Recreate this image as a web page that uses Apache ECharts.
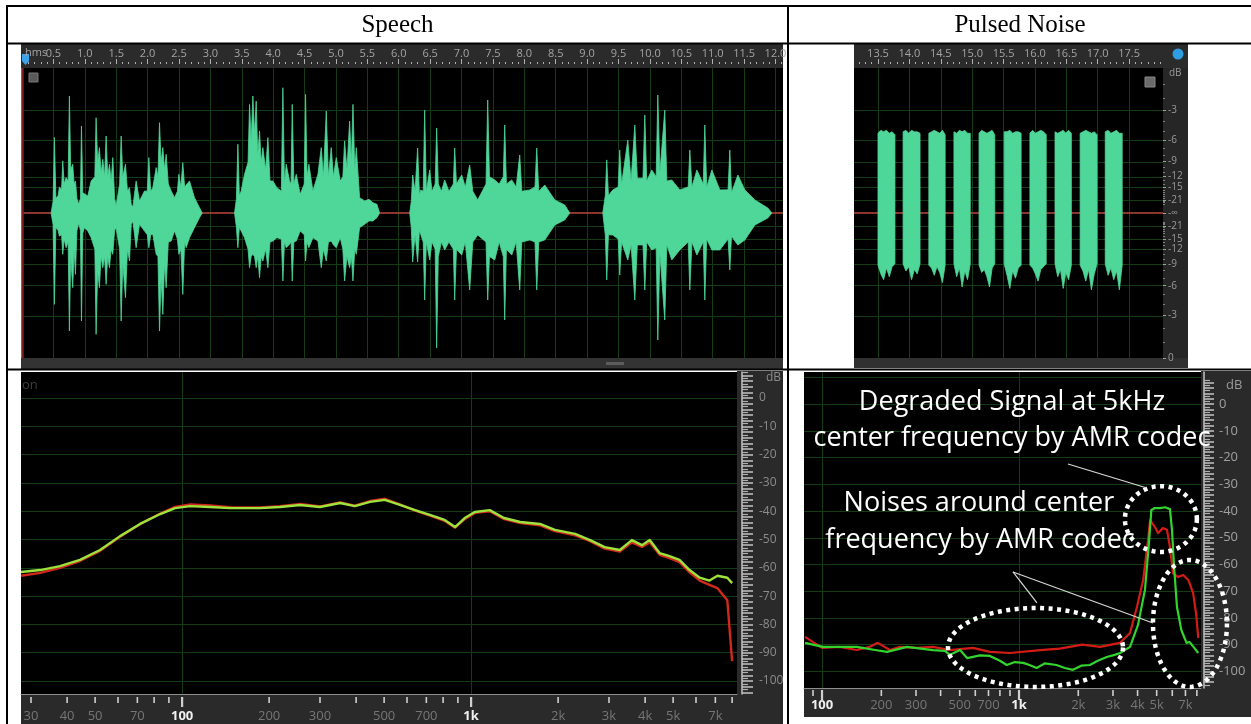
<!DOCTYPE html>
<html>
<head>
<meta charset="utf-8">
<title>Speech and pulsed noise</title>
<script src="https://cdn.jsdelivr.net/npm/echarts@6.0.0/dist/echarts.min.js"></script>
<style>
  html, body { margin: 0; padding: 0; background: #ffffff; }
  #chart { width: 1251px; height: 724px; }
</style>
</head>
<body>
<div id="chart"></div>
<script>
// ---------------- data ----------------
// Speech waveform: peak envelope (time in s, linear amplitude); null = silence between phrases
const speechT = [
  0.463, 0.495, 0.516, 0.540, 0.575, 0.596, 0.630, 0.649, 0.672, 0.702, 0.735, 0.755, 0.775, 0.808,
  0.830, 0.851, 0.875, 0.904, 0.930, 0.947, 0.968, 0.994, 1.048, 1.101, 1.160, 1.180, 1.205, 1.233,
  1.260, 1.287, 1.315, 1.340, 1.365, 1.393, 1.420, 1.446, 1.475, 1.499, 1.555, 1.579, 1.605, 1.648,
  1.680, 1.712, 1.740, 1.765, 1.818, 1.871, 1.951, 1.995, 2.020, 2.050, 2.083, 2.137, 2.165, 2.190,
  2.215, 2.243, 2.270, 2.296, 2.330, 2.376, 2.429, 2.475, 2.498, 2.530, 2.561, 2.590, 2.615, 2.668,
  2.747, 2.827, 2.870,
  null,
  3.385, 3.415, 3.438, 3.462, 3.491, 3.544, 3.600, 3.624, 3.650, 3.677, 3.703, 3.730, 3.755, 3.783,
  3.810, 3.836, 3.880, 3.916, 3.950, 3.996, 4.059, 4.130, 4.155, 4.180, 4.208, 4.261, 4.285, 4.304,
  4.330, 4.368, 4.431, 4.495, 4.516, 4.540, 4.569, 4.633, 4.713, 4.766, 4.800, 4.846, 4.880, 4.925,
  4.960, 5.005, 5.069, 5.110, 5.138, 5.175, 5.218, 5.245, 5.271, 5.300, 5.324, 5.377, 5.457, 5.526,
  5.589, 5.653, 5.695,
  null,
  6.175, 6.200, 6.222, 6.260, 6.301, 6.330, 6.349, 6.390, 6.413, 6.440, 6.493, 6.530, 6.580, 6.604,
  6.630, 6.680, 6.732, 6.800, 6.870, 6.891, 6.920, 7.003, 7.060, 7.130, 7.180, 7.258, 7.390, 7.417,
  7.445, 7.529, 7.600, 7.665, 7.688, 7.715, 7.800, 7.870, 7.927, 7.960, 8.087, 8.170, 8.198, 8.230,
  8.326, 8.485, 8.644, 8.724,
  null,
  9.250, 9.290, 9.313, 9.340, 9.409, 9.495, 9.520, 9.550, 9.648, 9.700, 9.760, 9.800, 9.890, 9.919,
  9.950, 10.030, 10.100, 10.126, 10.160, 10.237, 10.270, 10.349, 10.476, 10.610, 10.636, 10.670,
  10.748, 10.850, 10.875, 10.905, 10.987, 11.114, 11.245, 11.273, 11.300, 11.401, 11.513, 11.672,
  11.879, 11.943
];
const speechHi = [
  0, 0.08, 0.52, 0.10, 0.12, 0.18, 0.16, 0.359, 0.20, 0.244, 0.22, 0.807, 0.30, 0.336,
  0.20, 0.221, 0.10, 0.06, 0.10, 0.60, 0.14, 0.129, 0.117, 0.221, 0.25, 0.657, 0.35, 0.451,
  0.28, 0.37, 0.25, 0.531, 0.25, 0.336, 0.22, 0.382, 0.10, 0.05, 0.20, 0.531, 0.25, 0.336,
  0.15, 0.175, 0.06, 0.04, 0.221, 0.083, 0.152, 0.15, 0.382, 0.15, 0.175, 0.313, 0.25, 0.623,
  0.35, 0.451, 0.30, 0.405, 0.20, 0.152, 0.106, 0.15, 0.267, 0.18, 0.347, 0.18, 0.175, 0.221,
  0.106, 0.037, 0,
  null,
  0, 0.10, 0.474, 0.12, 0.152, 0.267, 0.35, 0.749, 0.50, 0.807, 0.55, 0.772, 0.40, 0.566,
  0.35, 0.451, 0.30, 0.52, 0.22, 0.221, 0.175, 0.15, 0.864, 0.20, 0.336, 0.221, 0.20, 0.749,
  0.20, 0.267, 0.129, 0.20, 0.818, 0.25, 0.336, 0.152, 0.267, 0.451, 0.25, 0.703, 0.25, 0.451,
  0.25, 0.382, 0.221, 0.25, 0.497, 0.30, 0.634, 0.35, 0.749, 0.30, 0.451, 0.106, 0.083, 0.094,
  0.071, 0.06, 0,
  null,
  0, 0.08, 0.262, 0.15, 0.448, 0.12, 0.159, 0.15, 0.710, 0.15, 0.297, 0.15, 0.20, 0.586,
  0.20, 0.15, 0.228, 0.15, 0.20, 0.448, 0.20, 0.262, 0.18, 0.331, 0.15, 0.09, 0.20, 0.779,
  0.25, 0.228, 0.20, 0.25, 0.607, 0.20, 0.228, 0.18, 0.40, 0.15, 0.159, 0.18, 0.448, 0.15,
  0.193, 0.09, 0.055, 0,
  null,
  0, 0.12, 0.366, 0.12, 0.159, 0.18, 0.434, 0.20, 0.503, 0.22, 0.607, 0.24, 0.24, 0.676,
  0.22, 0.297, 0.25, 0.814, 0.28, 0.710, 0.22, 0.228, 0.159, 0.18, 0.434, 0.18,
  0.297, 0.20, 0.607, 0.18, 0.297, 0.159, 0.16, 0.434, 0.14, 0.262, 0.159, 0.09,
  0.034, 0
];
const speechLo = [
  0, -0.08, -0.63, -0.10, -0.12, -0.16, -0.15, -0.285, -0.18, -0.239, -0.20, -0.814, -0.30, -0.515,
  -0.25, -0.423, -0.12, -0.07, -0.12, -0.745, -0.14, -0.101, -0.124, -0.17, -0.25, -0.837, -0.40, -0.515,
  -0.30, -0.377, -0.30, -0.492, -0.30, -0.377, -0.25, -0.285, -0.12, -0.10, -0.25, -0.745, -0.35, -0.584,
  -0.25, -0.331, -0.08, -0.055, -0.239, -0.078, -0.124, -0.15, -0.239, -0.15, -0.147, -0.285, -0.30, -0.814,
  -0.45, -0.699, -0.35, -0.515, -0.20, -0.193, -0.124, -0.18, -0.285, -0.25, -0.561, -0.20, -0.239, -0.17,
  -0.101, -0.032, 0,
  null,
  0, -0.10, -0.239, -0.10, -0.124, -0.17, -0.25, -0.377, -0.30, -0.285, -0.30, -0.377, -0.30, -0.446,
  -0.30, -0.331, -0.25, -0.377, -0.20, -0.193, -0.17, -0.18, -0.469, -0.20, -0.239, -0.216, -0.20, -0.469,
  -0.20, -0.193, -0.124, -0.15, -0.331, -0.20, -0.239, -0.17, -0.193, -0.377, -0.25, -0.331, -0.20, -0.193,
  -0.22, -0.239, -0.17, -0.25, -0.469, -0.30, -0.377, -0.30, -0.469, -0.25, -0.285, -0.101, -0.078, -0.055,
  -0.055, -0.032, 0,
  null,
  0, -0.10, -0.338, -0.15, -0.338, -0.12, -0.117, -0.20, -0.60, -0.20, -0.324, -0.20, -0.25, -0.93,
  -0.30, -0.20, -0.255, -0.20, -0.25, -0.60, -0.25, -0.29, -0.20, -0.531, -0.20, -0.152, -0.20, -0.60,
  -0.30, -0.324, -0.20, -0.30, -0.738, -0.25, -0.29, -0.20, -0.531, -0.20, -0.186, -0.20, -0.531, -0.20,
  -0.186, -0.083, -0.048, 0,
  null,
  0, -0.15, -0.462, -0.15, -0.152, -0.18, -0.428, -0.20, -0.324, -0.22, -0.60, -0.22, -0.22, -0.531,
  -0.20, -0.255, -0.24, -0.876, -0.28, -0.738, -0.22, -0.324, -0.255, -0.20, -0.531, -0.20,
  -0.29, -0.20, -0.60, -0.18, -0.255, -0.255, -0.18, -0.393, -0.16, -0.221, -0.186, -0.083,
  -0.034, 0
];

// Pulsed noise bursts: onset / offset times (s) and envelope readings across each burst
const pulseStart = [13.50, 13.90, 14.31, 14.71, 15.11, 15.51, 15.92, 16.32, 16.72, 17.12];
const pulseEnd   = [13.77, 14.17, 14.57, 14.97, 15.36, 15.78, 16.18, 16.58, 16.99, 17.39];
const pulseHi = [
  [0.55, 0.57, 0.56, 0.57, 0.55, 0.56, 0.54],
  [0.56, 0.57, 0.55, 0.57, 0.56, 0.56, 0.55],
  [0.55, 0.56, 0.57, 0.56, 0.55, 0.57, 0.54],
  [0.56, 0.55, 0.57, 0.56, 0.57, 0.55, 0.55],
  [0.55, 0.57, 0.56, 0.55, 0.56, 0.57, 0.54],
  [0.56, 0.56, 0.57, 0.55, 0.56, 0.56, 0.55],
  [0.55, 0.57, 0.55, 0.56, 0.57, 0.56, 0.54],
  [0.56, 0.55, 0.56, 0.57, 0.55, 0.57, 0.55],
  [0.55, 0.56, 0.57, 0.56, 0.55, 0.56, 0.54],
  [0.56, 0.57, 0.55, 0.56, 0.57, 0.55, 0.55]
];
const pulseLo = [
  [-0.36, -0.42, -0.46, -0.38, -0.44, -0.37, -0.35],
  [-0.35, -0.40, -0.37, -0.46, -0.39, -0.42, -0.35],
  [-0.36, -0.38, -0.43, -0.37, -0.41, -0.48, -0.36],
  [-0.35, -0.44, -0.38, -0.51, -0.40, -0.46, -0.35],
  [-0.36, -0.41, -0.39, -0.44, -0.51, -0.38, -0.35],
  [-0.35, -0.43, -0.52, -0.40, -0.45, -0.38, -0.36],
  [-0.36, -0.38, -0.42, -0.47, -0.39, -0.37, -0.35],
  [-0.35, -0.44, -0.39, -0.52, -0.41, -0.46, -0.36],
  [-0.36, -0.40, -0.47, -0.39, -0.53, -0.42, -0.35],
  [-0.35, -0.43, -0.38, -0.46, -0.40, -0.53, -0.36]
];

// Time ruler labels (s)
const speechRuler = [0.5, 1.0, 1.5, 2.0, 2.5, 3.0, 3.5, 4.0, 4.5, 5.0, 5.5, 6.0, 6.5, 7.0, 7.5, 8.0,
                     8.5, 9.0, 9.5, 10.0, 10.5, 11.0, 11.5, 12.0];
const noiseRuler = [13.5, 14.0, 14.5, 15.0, 15.5, 16.0, 16.5, 17.0, 17.5];
// Waveform level grid (dB below full scale)
const waveDbLevels = [-3, -6, -9, -12, -15, -21];

// Speech spectrum (Hz, dB)
const speechSpecF = [27.7, 32.3, 37.8, 44.3, 52, 61, 71.5, 84, 94.6, 106.6,
  125, 146.6, 186, 218, 256, 300, 352, 396, 447, 503,
  567, 640, 720, 810, 880, 950, 1030, 1160, 1300, 1480,
  1730, 1950, 2290, 2580, 2900, 3270, 3600, 3900, 4150, 4490,
  4860, 5260, 5700, 6180, 6680, 7120, 7700, 8000];
const speechSpecGreen = [-61.5, -60.8, -59.4, -57.2, -53.7, -48.8, -44.5, -41, -38.9, -38.2,
  -38.5, -38.9, -38.9, -38.5, -37.8, -38.5, -37.1, -38.2, -36.7, -36,
  -37.8, -39.6, -41.3, -43.1, -45.6, -42.4, -40.3, -39.6, -42.4, -43.8,
  -44.5, -46.6, -48, -50.2, -52.7, -53.7, -50.2, -52, -50.2, -54.8,
  -55.9, -57.2, -60.8, -63.5, -64.5, -62.8, -63.5, -65.4];
const speechSpecRed = [-62.8, -61.8, -60, -57.6, -54, -49, -44.6, -40.8, -38.5, -37.6,
  -38, -38.6, -38.7, -38.2, -37.4, -38.3, -36.9, -38, -36.4, -35.6,
  -37.6, -39.8, -41.6, -43.4, -45.8, -42.8, -40.6, -40, -42.8, -44.2,
  -45, -47, -48.5, -50.6, -53.2, -54.3, -51, -52.6, -51, -55.4,
  -56.6, -58, -61.6, -64.5, -66, -67.2, -71.5, -93];

// Pulsed-noise spectrum (Hz, dB)
const noiseRedF = [82, 100, 123, 150, 175, 192, 221, 249, 303, 365,
  446, 584, 712, 900, 1280, 1610, 2100, 2580, 3260, 3660,
  3970, 4270, 4520, 4630, 4900, 5080, 5380, 5640, 5840, 6050,
  6420, 6820, 7240, 7660, 7940, 8130];
const noiseRedDb = [-87.1, -91.2, -90.8, -92, -90.8, -89.3, -92, -90.8, -91.2, -90.8,
  -92, -91.2, -92.7, -93.1, -92, -91.5, -90, -90.8, -89.3, -85.6,
  -75.9, -65.8, -50.8, -43.4, -46, -48.2, -46.4, -47, -53.5, -63.2,
  -64.7, -63.9, -65.8, -70.7, -78.9, -87.5];
const noiseGreenF = [82, 101, 150, 186, 214, 270, 365, 420, 446, 502,
  545, 634, 712, 800, 867, 953, 1050, 1130, 1230, 1350,
  1550, 1710, 1880, 2080, 2290, 2510, 2790, 3060, 3260, 3660,
  4020, 4360, 4560, 4700, 4890, 5200, 5510, 5840, 5980, 6120,
  6340, 6670, 7090, 7340, 7690, 8130];
const noiseGreenDb = [-89.3, -90.8, -90.8, -92, -92.7, -90.8, -92, -92.3, -93.8, -92,
  -95, -94, -94.2, -96, -97.6, -96.5, -96.8, -97.6, -98.7, -97,
  -97.6, -98.7, -99.4, -97.8, -97.6, -96, -94.6, -93.8, -93.1, -90.8,
  -82.6, -69.5, -52.7, -39.6, -38.9, -38.9, -38.6, -39.3, -47, -60.2,
  -75.9, -84.5, -89.3, -89, -90.8, -93.1];

// Spectrum axes
const specDbLabels = [0, -10, -20, -30, -40, -50, -60, -70, -80, -90, -100];
const speechFreqTicks  = [30, 40, 50, 60, 70, 80, 90, 100, 200, 300, 400, 500, 600, 700, 800, 900,
                          1000, 2000, 3000, 4000, 5000, 6000, 7000, 8000];
const speechFreqLabels = ['30', '40', '50', '', '70', '', '', '100', '200', '300', '', '500', '', '700', '', '',
                          '1k', '2k', '3k', '4k', '5k', '', '7k', ''];
const noiseFreqTicks  = [90, 100, 200, 300, 400, 500, 600, 700, 800, 900,
                         1000, 2000, 3000, 4000, 5000, 6000, 7000, 8000];
const noiseFreqLabels = ['', '100', '200', '300', '', '500', '', '700', '', '',
                         '1k', '2k', '3k', '4k', '5k', '', '7k', ''];

// Annotations on the pulsed-noise spectrum, in (Hz, dB)
const noteText = ['Degraded Signal at 5kHz', 'center frequency by AMR codec',
                  'Noises around center', 'frequency by AMR codec'];
const noteTextAt = [[921, 0.7], [921, -12.7], [626, -37], [634, -50.8]];
const noteLines = [[1773, -22.4, 4463, -31.4], [932, -62.8, 1234, -74.4], [932, -62.8, 4788, -81.9]];
const noteRings = [[3450, 8000, -30.7, -55.3], [436, 3373, -76.3, -105.8], [4788, 11370, -58.3, -105.8]];

// ---------------- styling helpers ----------------
const GRID_GREEN = '#143d16';
const CENTER_RED = '#b9493b';
const WAVE_FILL = '#4fd699';
const RULER_TXT = '#a4a4a4';
const STRIP = '#2a2a2a';

const ampOf = db => Math.pow(10, db / 20);
const waveGridAmps = [];
waveDbLevels.forEach(d => { waveGridAmps.push(ampOf(d), -ampOf(d)); });
const waveLabelAmps = waveGridAmps.concat([0, -1]);
const waveMinorAmps = [];
for (let d = -1; d >= -24; d--) {
  if (waveDbLevels.indexOf(d) < 0) waveMinorAmps.push(ampOf(d), -ampOf(d));
}
const stepList = (a, b, s) => { const out = []; for (let v = a; v <= b + 1e-9; v += s) out.push(+v.toFixed(2)); return out; };
const speechMinor = stepList(0.1, 12.1, 0.1);
const noiseMinor = stepList(13.2, 18.0, 0.1);
const specMajorTicks = stepList(-104, 8, 2);
const specMinorTicks = stepList(-105, 9, 2);

function waveGridSeries(xi, yi, vLines, edge) {
  const lines = vLines.map(t => ({ xAxis: t }))
    .concat(waveGridAmps.map(a => ({ yAxis: a })))
    .concat([{ yAxis: 0, lineStyle: { color: CENTER_RED, width: 1.6, type: 'solid', opacity: 1 } }]);
  if (edge != null) lines.push({ xAxis: edge, lineStyle: { color: '#7c1f1f', width: 2.5, type: 'solid' } });
  return {
    type: 'line', xAxisIndex: xi, yAxisIndex: yi, z: 1, silent: true, data: [], symbol: 'none',
    markLine: {
      z: 1, silent: true, symbol: ['none', 'none'], animation: false, label: { show: false },
      lineStyle: { color: GRID_GREEN, width: 1, type: 'solid' }, data: lines
    }
  };
}
function specGridSeries(xi, yi, levels) {
  return {
    type: 'line', xAxisIndex: xi, yAxisIndex: yi, z: 1, silent: true, data: [], symbol: 'none',
    markLine: {
      z: 1, silent: true, symbol: ['none', 'none'], animation: false, label: { show: false },
      lineStyle: { color: GRID_GREEN, width: 1, type: 'solid' },
      data: [{ xAxis: 100 }, { xAxis: 1000 }].concat(levels.map(v => ({ yAxis: v })))
    }
  };
}
function waveSeries(xi, yi, pts) {
  return {
    type: 'line', xAxisIndex: xi, yAxisIndex: yi, z: 5, silent: true, data: pts,
    symbol: 'none', connectNulls: false, animation: false,
    lineStyle: { color: WAVE_FILL, width: 0.8 },
    areaStyle: { color: WAVE_FILL, opacity: 1 }
  };
}
function specSeries(xi, yi, fs, dbs, color, w) {
  return {
    type: 'line', xAxisIndex: xi, yAxisIndex: yi, z: 5, silent: true,
    data: fs.map((f, i) => [f, dbs[i]]), symbol: 'none', animation: false,
    lineStyle: { color: color, width: w, join: 'round' }
  };
}
function freqAxisSeries(xi, yi, ticks, labels, yMin, tickTop, tickLen, labelDy) {
  return {
    type: 'custom', xAxisIndex: xi, yAxisIndex: yi, z: 6, silent: true, clip: false, animation: false,
    data: ticks.map((f, i) => [f, yMin, i]),
    renderItem: (params, api) => {
      const i = api.value(2);
      const p = api.coord([api.value(0), api.value(1)]);
      const lab = labels[i];
      const major = lab === '100' || lab === '1k';
      const kids = [{
        type: 'line',
        shape: { x1: p[0], y1: p[1] + tickTop, x2: p[0], y2: p[1] + tickTop + (major ? tickLen + 4 : tickLen) },
        style: { stroke: '#cfcfcf', lineWidth: major ? 2.2 : 1.6 }
      }];
      if (lab) kids.push({
        type: 'text', x: p[0], y: p[1] + labelDy,
        style: { text: lab, fill: major ? '#f0f0f0' : '#767676', align: 'center', verticalAlign: 'middle',
                 font: (major ? 'bold ' : '') + '13px "Open Sans", sans-serif' }
      });
      return { type: 'group', children: kids };
    }
  };
}
function pulseEnvelope(levels) {
  const pts = [];
  pulseStart.forEach((s, p) => {
    const e = pulseEnd[p], v = levels[p], n = v.length;
    pts.push([s, 0]);
    v.forEach((a, k) => pts.push([s + (e - s) * k / (n - 1), a]));
    pts.push([e, 0]);
    pts.push([null, null]);
  });
  return pts;
}
const dbText = v => {
  if (v === 0) return '-\u221e';
  if (Math.abs(v) > 0.999) return '0';
  return String(Math.round(20 * Math.log10(Math.abs(v))));
};

// ---------------- layout decoration ----------------
const bg = (id, x, y, w, h, fill) => ({ type: 'rect', id, z: -10, shape: { x, y, width: w, height: h }, style: { fill } });
const rule = (id, x1, y1, x2, y2) => ({ type: 'line', id, z: 60, shape: { x1, y1, x2, y2 }, style: { stroke: '#000', lineWidth: 2 } });
const graphics = [
  bg('rulerA', 21, 44, 762, 24, '#2b2b2b'),
  bg('footA', 21, 358, 762, 11, '#333333'),
  bg('gripA', 606, 362, 18, 3, '#5c5c5c'),
  bg('rulerB', 854, 44, 334, 24, '#2b2b2b'),
  bg('sideB', 1163, 68, 25, 290, '#262626'),
  bg('footB', 854, 358, 334, 10, '#303030'),
  bg('sideC', 737, 371, 46, 353, STRIP),
  bg('footC', 21, 694, 716, 30, STRIP),
  bg('sideD', 1201, 371, 50, 346, STRIP),
  bg('footD', 804, 688, 397, 29, STRIP),
  { type: 'rect', id: 'clipC', z: 55, shape: { x: 783, y: 371, width: 5, height: 353 }, style: { fill: '#fff' } },
  { type: 'rect', id: 'iconA', z: 20, shape: { x: 29, y: 73, width: 9, height: 9 }, style: { fill: '#5a5a5a', stroke: '#777', lineWidth: 1 } },
  { type: 'rect', id: 'iconB', z: 20, shape: { x: 1145, y: 77, width: 10, height: 10 }, style: { fill: '#6a6a6a', stroke: '#888', lineWidth: 1 } },
  { type: 'circle', id: 'knobB', z: 20, shape: { cx: 1178, cy: 54, r: 5.5 }, style: { fill: '#2f9ee0' } },
  { type: 'polygon', id: 'headA', z: 20, shape: { points: [[22, 54], [29, 54], [29, 61], [25.5, 65], [22, 61]] }, style: { fill: '#3aa3ea' } },
  { type: 'text', id: 'hms', z: 20, x: 25, y: 53, style: { text: 'hms', fill: RULER_TXT, font: '11px "Open Sans", sans-serif', verticalAlign: 'middle' } },
  { type: 'text', id: 'dbB', z: 20, x: 1169, y: 73, style: { text: 'dB', fill: '#9a9a9a', font: '10px "Open Sans", sans-serif', verticalAlign: 'middle' } },
  { type: 'text', id: 'dbC', z: 20, x: 766, y: 378, style: { text: 'dB', fill: '#8c8c8c', font: '12px "Open Sans", sans-serif', verticalAlign: 'middle' } },
  { type: 'text', id: 'dbD', z: 20, x: 1226, y: 385, style: { text: 'dB', fill: '#9a9a9a', font: '13px "Open Sans", sans-serif', verticalAlign: 'middle' } },
  { type: 'text', id: 'onC', z: 20, x: 22, y: 385, style: { text: 'on', fill: '#3e3e3e', font: '13px "Open Sans", sans-serif', verticalAlign: 'middle' } },
  // table
  rule('t0', 6, 6, 1251, 6),
  rule('t1', 6, 43.5, 1251, 43.5),
  rule('t2', 6, 369.5, 1251, 369.5),
  rule('v0', 7, 5, 7, 724),
  rule('v1', 788, 5, 788, 724),
  { type: 'text', id: 'h1', z: 60, x: 397.5, y: 25, style: { text: 'Speech', fill: '#000', align: 'center', verticalAlign: 'middle', font: '25px "Liberation Serif", "Times New Roman", serif' } },
  { type: 'text', id: 'h2', z: 60, x: 1020, y: 25, style: { text: 'Pulsed Noise', fill: '#000', align: 'center', verticalAlign: 'middle', font: '25px "Liberation Serif", "Times New Roman", serif' } }
];

// ---------------- chart ----------------
const chart = echarts.init(document.getElementById('chart'), null, { renderer: 'canvas' });
const gridBase = { show: true, backgroundColor: '#000', borderWidth: 0, containLabel: false, outerBoundsMode: 'none' };
const rulerTick = (vals, len) => ({ show: true, customValues: vals, length: len, lineStyle: { color: '#b0b0b0', width: 1 } });
const noLine = { show: false, onZero: false };

chart.setOption({
  animation: false,
  backgroundColor: '#ffffff',
  grid: [
    Object.assign({ left: 22, top: 68, width: 761, height: 290 }, gridBase),
    Object.assign({ left: 854, top: 68, width: 309, height: 290 }, gridBase),
    Object.assign({ left: 21, top: 372, width: 716, height: 322 }, gridBase),
    Object.assign({ left: 804, top: 372, width: 397, height: 316 }, gridBase)
  ],
  xAxis: [
    { gridIndex: 0, type: 'value', min: 0, max: 12.12, position: 'top', offset: 4,
      axisLine: noLine, splitLine: { show: false }, axisTick: rulerTick(speechRuler, 5),
      axisLabel: { customValues: speechRuler, formatter: v => v.toFixed(1), color: RULER_TXT, fontSize: 11, margin: 5, fontFamily: 'Open Sans' } },
    { gridIndex: 0, type: 'value', min: 0, max: 12.12, position: 'top', offset: 4,
      axisLine: noLine, splitLine: { show: false }, axisTick: rulerTick(speechMinor, 2), axisLabel: { show: false } },
    { gridIndex: 1, type: 'value', min: 13.118, max: 18.04, position: 'top', offset: 4,
      axisLine: noLine, splitLine: { show: false }, axisTick: rulerTick(noiseRuler, 5),
      axisLabel: { customValues: noiseRuler, formatter: v => v.toFixed(1), color: RULER_TXT, fontSize: 11, margin: 5, fontFamily: 'Open Sans' } },
    { gridIndex: 1, type: 'value', min: 13.118, max: 18.04, position: 'top', offset: 4,
      axisLine: noLine, splitLine: { show: false }, axisTick: rulerTick(noiseMinor, 2), axisLabel: { show: false } },
    { gridIndex: 2, type: 'log', logBase: 10, min: 27.7, max: 8318, position: 'bottom',
      axisLine: { show: true, onZero: false, lineStyle: { color: '#8e8e8e', width: 1 } },
      axisTick: { show: false }, axisLabel: { show: false }, splitLine: { show: false } },
    { gridIndex: 3, type: 'log', logBase: 10, min: 81, max: 8395, position: 'bottom',
      axisLine: { show: true, onZero: false, lineStyle: { color: '#8e8e8e', width: 1 } },
      axisTick: { show: false }, axisLabel: { show: false }, splitLine: { show: false } }
  ],
  yAxis: [
    { gridIndex: 0, type: 'value', min: -1, max: 1, show: false, axisLine: noLine },
    { gridIndex: 1, type: 'value', min: -1, max: 1, position: 'right',
      axisLine: noLine, splitLine: { show: false },
      axisTick: { show: true, customValues: waveLabelAmps, length: 3, lineStyle: { color: '#a0a0a0' } },
      axisLabel: { customValues: waveLabelAmps, formatter: dbText, color: '#9a9a9a', fontSize: 10, margin: 5, fontFamily: 'Open Sans' } },
    { gridIndex: 1, type: 'value', min: -1, max: 1, position: 'right',
      axisLine: noLine, splitLine: { show: false }, axisLabel: { show: false },
      axisTick: { show: true, customValues: waveMinorAmps, length: 2, lineStyle: { color: '#808080' } } },
    { gridIndex: 2, type: 'value', min: -104.6, max: 9.2, position: 'right', offset: 5,
      axisLine: { show: true, onZero: false, lineStyle: { color: '#c4c4c4', width: 1.5 } }, splitLine: { show: false },
      axisTick: { show: true, customValues: specMajorTicks, length: 11, lineStyle: { color: '#c4c4c4', width: 1.5 } },
      axisLabel: { customValues: specDbLabels, color: '#8c8c8c', fontSize: 12, margin: 17, fontFamily: 'Open Sans' } },
    { gridIndex: 2, type: 'value', min: -104.6, max: 9.2, position: 'right', offset: 5,
      axisLine: noLine, splitLine: { show: false }, axisLabel: { show: false },
      axisTick: { show: true, customValues: specMinorTicks, length: 6, lineStyle: { color: '#b0b0b0', width: 1.2 } } },
    { gridIndex: 3, type: 'value', min: -106.2, max: 12, position: 'right', offset: 3,
      axisLine: { show: true, onZero: false, lineStyle: { color: '#c4c4c4', width: 1.5 } }, splitLine: { show: false },
      axisTick: { show: true, customValues: specMajorTicks, length: 10, lineStyle: { color: '#c4c4c4', width: 1.5 } },
      axisLabel: { customValues: specDbLabels, color: '#a0a0a0', fontSize: 13, margin: 15, fontFamily: 'Open Sans' } },
    { gridIndex: 3, type: 'value', min: -106.2, max: 12, position: 'right', offset: 3,
      axisLine: noLine, splitLine: { show: false }, axisLabel: { show: false },
      axisTick: { show: true, customValues: specMinorTicks, length: 6, lineStyle: { color: '#b0b0b0', width: 1.2 } } }
  ],
  graphic: { elements: graphics },
  series: [
    // speech waveform
    waveGridSeries(0, 0, speechRuler, 0),
    waveSeries(0, 0, speechT.map((t, i) => [t, speechHi[i]])),
    waveSeries(0, 0, speechT.map((t, i) => [t, speechLo[i]])),
    // pulsed noise waveform
    waveGridSeries(2, 1, noiseRuler, null),
    waveSeries(2, 1, pulseEnvelope(pulseHi)),
    waveSeries(2, 1, pulseEnvelope(pulseLo)),
    // speech spectrum
    specGridSeries(4, 3, specDbLabels),
    specSeries(4, 3, speechSpecF, speechSpecRed, '#d0281c', 2.4),
    specSeries(4, 3, speechSpecF, speechSpecGreen, '#9ee23c', 2.4),
    freqAxisSeries(4, 3, speechFreqTicks, speechFreqLabels, -104.6, 3, 6, 22),
    // pulsed noise spectrum
    specGridSeries(5, 5, [10].concat(specDbLabels)),
    specSeries(5, 5, noiseRedF, noiseRedDb, '#d41c16', 2.2),
    specSeries(5, 5, noiseGreenF, noiseGreenDb, '#33d42e', 2.2),
    freqAxisSeries(5, 5, noiseFreqTicks, noiseFreqLabels, -106.2, 2, 6, 17),
    // annotations
    {
      type: 'custom', xAxisIndex: 5, yAxisIndex: 5, z: 20, silent: true, clip: false, animation: false,
      data: noteRings,
      renderItem: (params, api) => {
        const a = api.coord([api.value(0), api.value(2)]);
        const b = api.coord([api.value(1), api.value(3)]);
        const cx = (a[0] + b[0]) / 2, cy = (a[1] + b[1]) / 2;
        const rx = Math.abs(b[0] - a[0]) / 2, ry = Math.abs(b[1] - a[1]) / 2;
        const pts = [];
        for (let k = 0; k < 120; k++) {
          const th = k / 120 * Math.PI * 2;
          pts.push([cx + rx * Math.cos(th), cy + ry * Math.sin(th)]);
        }
        return { type: 'polygon', shape: { points: pts },
                 style: { fill: 'none', stroke: '#ffffff', lineWidth: 4.5, lineDash: [4, 4.5] } };
      }
    },
    {
      type: 'custom', xAxisIndex: 5, yAxisIndex: 5, z: 20, silent: true, clip: false, animation: false,
      data: noteLines,
      renderItem: (params, api) => {
        const a = api.coord([api.value(0), api.value(1)]);
        const b = api.coord([api.value(2), api.value(3)]);
        return { type: 'line', shape: { x1: a[0], y1: a[1], x2: b[0], y2: b[1] },
                 style: { stroke: '#d8d8d8', lineWidth: 1.2 } };
      }
    },
    {
      type: 'custom', xAxisIndex: 5, yAxisIndex: 5, z: 21, silent: true, clip: false, animation: false,
      data: noteTextAt.map((p, i) => [p[0], p[1], i]),
      renderItem: (params, api) => {
        const p = api.coord([api.value(0), api.value(1)]);
        return { type: 'text', x: p[0], y: p[1],
                 style: { text: noteText[api.value(2)], fill: '#ffffff', align: 'center', verticalAlign: 'middle',
                          font: '27px "Open Sans", sans-serif' } };
      }
    }
  ]
});
</script>
</body>
</html>
